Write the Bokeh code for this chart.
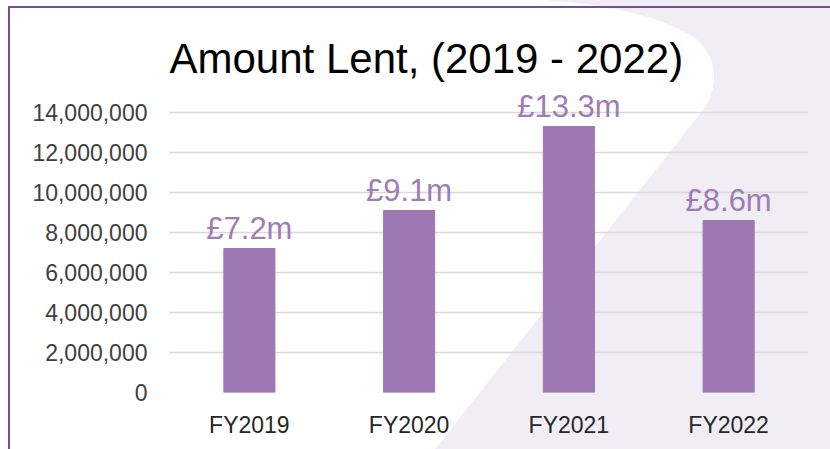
import base64
from bokeh.plotting import figure
from bokeh.models import (ColumnDataSource, FixedTicker, NumeralTickFormatter,
                          LabelSet, Range1d, InlineStyleSheet)
from bokeh.core.properties import value
from bokeh.embed import file_html
from bokeh.resources import INLINE

years = ["FY2019", "FY2020", "FY2021", "FY2022"]
amounts = [7_200_000, 9_100_000, 13_300_000, 8_600_000]
labels = ["£7.2m", "£9.1m", "£13.3m", "£8.6m"]
y_ticks = [0, 2_000_000, 4_000_000, 6_000_000, 8_000_000, 10_000_000, 12_000_000, 14_000_000]

FONT = "Liberation Sans"
BAR = "#9e78b4"
LABEL = "#a07bb6"
LAVENDER = "#f0edf5"
BORDER = "#6f5290"

W, H = 830, 449

# decorative page background (lavender swoosh + purple frame), drawn as CSS
svg = (f"<svg xmlns='http://www.w3.org/2000/svg' width='{W}' height='{H}'>"
       f"<path d='M540 0 C600 3 660 15 695 38 C720 58 718 90 703 110 L435 449 L830 449 L830 0 Z' fill='{LAVENDER}'/>"
       f"<path d='M9 449 L9 7 L830 7' fill='none' stroke='{BORDER}' stroke-width='2'/>"
       f"</svg>")
bg_uri = "data:image/svg+xml;base64," + base64.b64encode(svg.encode()).decode()
bg_css = {"background-color": "white", "background-image": f"url('{bg_uri}')",
          "background-repeat": "no-repeat", "background-size": f"{W}px {H}px"}

src = ColumnDataSource(dict(years=years, amounts=amounts, labels=labels))

p = figure(x_range=years, y_range=Range1d(0, 15_500_000), width=W, height=H,
           output_backend="svg", toolbar_location=None,
           min_border_left=169, min_border_right=22, min_border_top=82, min_border_bottom=57,
           title="Amount Lent, (2019 - 2022)")
p.styles = bg_css
p.stylesheets = [InlineStyleSheet(css=":host { " + "; ".join(f"{k}: {v}" for k, v in bg_css.items()) + " }")]
p.background_fill_alpha = 0
p.border_fill_alpha = 0
p.outline_line_color = None

p.vbar(x="years", top="amounts", width=0.32, source=src, color=BAR)

lbl = LabelSet(x="years", y="amounts", text="labels", source=src, text_align="center",
               text_baseline="alphabetic", y_offset=10, text_font_size=value("31px"),
               text_font=value(FONT), text_color=value(LABEL))
p.add_layout(lbl)

p.title.text_font = FONT
p.title.text_font_size = "42px"
p.title.text_font_style = "normal"
p.title.text_color = "black"
p.title.align = "left"
p.title.offset = 0
p.title.standoff = 2

p.yaxis.ticker = FixedTicker(ticks=y_ticks)
p.yaxis.formatter = NumeralTickFormatter(format="0,0")
for ax, col, so in ((p.xaxis, "#262626", 19), (p.yaxis, "#404040", 22)):
    ax.axis_line_color = None
    ax.major_tick_line_color = None
    ax.minor_tick_line_color = None
    ax.major_tick_out = 0
    ax.major_tick_in = 0
    ax.minor_tick_out = 0
    ax.minor_tick_in = 0
    ax.major_label_text_font = FONT
    ax.major_label_text_font_size = "23px"
    ax.major_label_text_color = col
    ax.major_label_standoff = so

p.xgrid.grid_line_color = None
p.ygrid.grid_line_color = "#d9d9d9"
p.ygrid.grid_line_width = 1.5

open("out.html", "w").write(file_html(p, INLINE))
